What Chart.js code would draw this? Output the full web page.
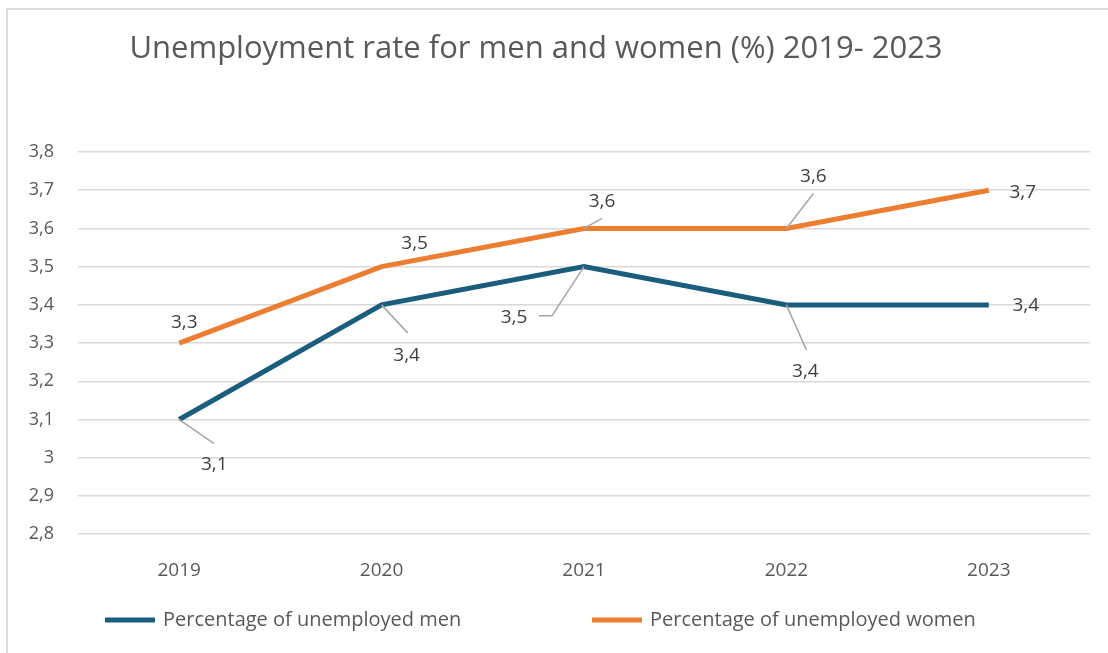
<!DOCTYPE html>
<html>
<head>
<meta charset="utf-8">
<script src="https://cdn.jsdelivr.net/npm/chart.js@4/dist/chart.umd.min.js"></script>
<style>
  html, body { margin: 0; padding: 0; background: #ffffff; }
  #wrap { width: 1108px; height: 653px; position: relative; }
</style>
</head>
<body>
<div id="wrap"><canvas id="chart" width="1108" height="653"></canvas></div>
<script>
// Unemployment rate by sex, 2019-2023 (%)
const years = ['2019', '2020', '2021', '2022', '2023'];
const menRate = [3.1, 3.4, 3.5, 3.4, 3.4];
const womenRate = [3.3, 3.5, 3.6, 3.6, 3.7];
const seriesNames = ['Percentage of unemployed men', 'Percentage of unemployed women'];
const chartTitle = 'Unemployment rate for men and women (%) 2019- 2023';

const MEN_COLOR = '#1B5D7D';
const WOMEN_COLOR = '#ED7D31';
const FONT = "'Open Sans', 'Liberation Sans', sans-serif";

// comma as decimal separator, whole numbers without decimals
function fmt(v) {
  return String(Number(Number(v).toFixed(1))).replace('.', ',');
}

// label placement per point: label offset and optional leader-line path (relative to the point)
const labelPlacement = [
  [
    { dx: 35, dy: 45, leader: [[35, 24]] },
    { dx: 25, dy: 51, leader: [[26, 28]] },
    { dx: -70, dy: 51, leader: [[-32, 49], [-45, 49]] },
    { dx: 19, dy: 67, leader: [[20, 45]] },
    { dx: 37, dy: 1 }
  ],
  [
    { dx: 5, dy: -21 },
    { dx: 33, dy: -23 },
    { dx: 18, dy: -27, leader: [[18, -10]] },
    { dx: 27, dy: -52, leader: [[27, -35]] },
    { dx: 34, dy: 2 }
  ]
];

const framePlugin = {
  id: 'frame',
  beforeDraw(chart) {
    const ctx = chart.ctx;
    ctx.save();
    ctx.fillStyle = '#ffffff';
    ctx.fillRect(0, 0, chart.width, chart.height);
    ctx.strokeStyle = '#DCDCDC';
    ctx.lineWidth = 2;
    ctx.beginPath();
    ctx.moveTo(7, chart.height);
    ctx.lineTo(7, 9);
    ctx.lineTo(chart.width, 9);
    ctx.stroke();
    // title
    ctx.fillStyle = '#595959';
    ctx.font = '31px ' + FONT;
    ctx.textAlign = 'center';
    ctx.textBaseline = 'middle';
    ctx.fillText(chartTitle, 536, 49);
    ctx.restore();
  }
};

const valueLabelPlugin = {
  id: 'valueLabels',
  afterDatasetsDraw(chart) {
    const ctx = chart.ctx;
    ctx.save();
    chart.data.datasets.forEach((ds, di) => {
      const meta = chart.getDatasetMeta(di);
      meta.data.forEach((pt, i) => {
        const p = labelPlacement[di][i];
        if (p.leader) {
          ctx.strokeStyle = '#A6A6A6';
          ctx.lineWidth = 1.5;
          ctx.beginPath();
          ctx.moveTo(pt.x, pt.y);
          p.leader.forEach(([lx, ly]) => ctx.lineTo(pt.x + lx, pt.y + ly));
          ctx.stroke();
        }
        ctx.fillStyle = '#404040';
        ctx.font = '19px ' + FONT;
        ctx.textAlign = 'center';
        ctx.textBaseline = 'middle';
        ctx.fillText(fmt(ds.data[i]), pt.x + p.dx, pt.y + p.dy);
      });
    });
    ctx.restore();
  }
};

const legendPlugin = {
  id: 'bottomLegend',
  afterDraw(chart) {
    const ctx = chart.ctx;
    const starts = [105, 592];
    ctx.save();
    ctx.font = '20px ' + FONT;
    ctx.textBaseline = 'middle';
    ctx.textAlign = 'left';
    chart.data.datasets.forEach((ds, di) => {
      const x = starts[di], y = 620;
      ctx.fillStyle = ds.borderColor;
      ctx.fillRect(x, y - 2.5, 50, 5);
      ctx.fillStyle = '#595959';
      ctx.fillText(ds.label, x + 58, y);
    });
    ctx.restore();
  }
};

new Chart(document.getElementById('chart'), {
  type: 'line',
  data: {
    labels: years,
    datasets: [
      { label: seriesNames[0], data: menRate, borderColor: MEN_COLOR, backgroundColor: MEN_COLOR,
        borderWidth: 5, pointRadius: 0, tension: 0, borderJoinStyle: 'miter', borderCapStyle: 'butt' },
      { label: seriesNames[1], data: womenRate, borderColor: WOMEN_COLOR, backgroundColor: WOMEN_COLOR,
        borderWidth: 5, pointRadius: 0, tension: 0, borderJoinStyle: 'miter', borderCapStyle: 'butt' }
    ]
  },
  options: {
    responsive: false,
    animation: false,
    layout: { padding: { top: 152, left: 8, right: 18, bottom: 46 } },
    plugins: {
      legend: { display: false },
      title: { display: false },
      tooltip: { enabled: false }
    },
    scales: {
      x: {
        offset: true,
        grid: { display: false, drawTicks: false },
        border: { display: false },
        ticks: { color: '#595959', font: { family: FONT, size: 19 }, padding: 25 }
      },
      y: {
        min: 2.8,
        max: 3.8,
        afterFit(scale) { scale.width = 70; },
        grid: { color: '#D9D9D9', lineWidth: 1.5, drawTicks: false },
        border: { display: false },
        ticks: {
          stepSize: 0.1,
          color: '#595959',
          font: { family: FONT, size: 18 },
          padding: 24,
          callback: (v) => fmt(v)
        }
      }
    }
  },
  plugins: [framePlugin, valueLabelPlugin, legendPlugin]
});
</script>
</body>
</html>
